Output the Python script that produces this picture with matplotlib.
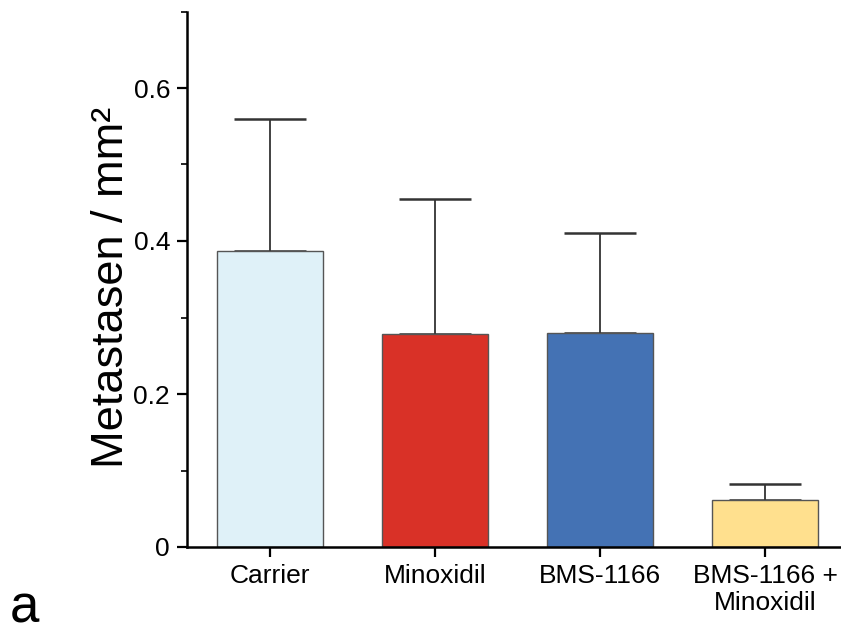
import matplotlib.pyplot as plt
from matplotlib.ticker import MultipleLocator

plt.rcParams['font.family'] = ['Liberation Sans', 'DejaVu Sans']

groups = ['Carrier', 'Minoxidil', 'BMS-1166', 'BMS-1166 +\nMinoxidil']
means = [0.387, 0.278, 0.280, 0.062]
errs = [0.173, 0.177, 0.130, 0.020]
colors = ['#DFF1F8', '#D93127', '#4472B4', '#FFE08E']

fig = plt.figure(figsize=(8.41, 6.35), dpi=100)
ax = fig.add_axes([187 / 841, 1 - 547 / 635, 1 - 187 / 841, 535.5 / 635])

x = range(len(groups))
ax.bar(x, means, width=0.64, color=colors, edgecolor='#555555', linewidth=1.0, zorder=2)
ax.errorbar(x, means, yerr=[[0] * len(errs), errs], fmt='none', ecolor='#333333',
            elinewidth=1.3, capsize=26, capthick=1.8, zorder=1)

ax.set_xlim(-0.503, 3.46)
ax.set_ylim(0, 0.7)
ax.set_xticks(list(x))
ax.set_xticklabels(groups, fontsize=19, linespacing=1.15)
ax.set_yticks([0, 0.2, 0.4, 0.6])
ax.set_yticklabels(['0', '0.2', '0.4', '0.6'], fontsize=19)
ax.yaxis.set_minor_locator(MultipleLocator(0.1))
ax.tick_params(axis='both', which='major', direction='out', length=7.2, width=1.6, pad=5, colors='black')
ax.tick_params(axis='y', which='minor', direction='out', length=4, width=1.2)
ax.tick_params(axis='x', which='minor', bottom=False)

for s in ['top', 'right']:
    ax.spines[s].set_visible(False)
for s in ['left', 'bottom']:
    ax.spines[s].set_linewidth(1.8)

ax.set_ylabel('Metastasen / mm²', fontsize=32.5)
ax.yaxis.set_label_coords(-0.084, 0.485)
fig.text(0.012, 0.002, 'a', fontsize=38, ha='left', va='bottom')

fig.savefig('out.png', dpi=100)
